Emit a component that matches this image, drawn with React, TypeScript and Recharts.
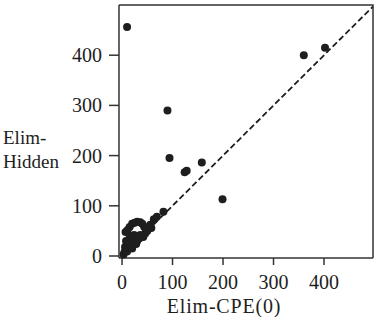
import React from 'react';
import { ScatterChart, Scatter, XAxis, YAxis, ReferenceLine } from 'recharts';

// Elim-CPE(0) vs Elim-Hidden, one entry per problem
const elimCPE = [
  10, 360, 402, 90, 94, 124, 128, 158, 199,
  3, 5, 8, 10, 6, 10, 14, 12, 16, 18, 20, 22, 26, 30, 34, 38, 42, 46, 24, 16, 28, 20, 8,
  12, 18, 24, 14, 22, 30, 36,
  7, 11, 15, 20, 25, 30, 36, 40, 44, 48, 52, 56, 58, 50,
  63, 69, 82,
];
const elimHidden = [
  456, 400, 415, 290, 195, 167, 170, 186, 113,
  3, 8, 12, 9, 18, 22, 20, 28, 25, 32, 38, 30, 34, 36, 35, 40, 38, 45, 42, 40, 24, 15, 30,
  16, 20, 28, 34, 26, 30, 42,
  48, 52, 58, 64, 66, 68, 67, 64, 58, 54, 58, 62, 56, 50,
  73, 78, 88,
];
const ticks = [0, 100, 200, 300, 400];
const xDomain = [-6, 497];
const yDomain = [-4, 500];

const points = elimCPE.map((x, i) => ({ x, y: elimHidden[i] }));
// top and right edges of the plot box, traced through the scales
const frame = [
  { x: xDomain[0], y: yDomain[1] },
  { x: xDomain[1], y: yDomain[1] },
  { x: xDomain[1], y: yDomain[0] },
];

const ink = '#1e1e1e';
const axisColor = '#333';
const font = 'Liberation Serif, serif';

const YLabel = () => (
  <text x={3} y={144} fill={ink} fontFamily={font} fontSize={19}>
    <tspan x={3} y={144}>Elim-</tspan>
    <tspan x={3} y={168}>Hidden</tspan>
  </text>
);

const XLabel = () => (
  <text x={224} y={313} textAnchor="middle" fill={ink} fontFamily={font} fontSize={20} letterSpacing={0.8}>
    Elim-CPE(0)
  </text>
);

const App: React.FC = () => {
  return (
    <div style={{ position: 'absolute', left: 0, top: 0 }}>
      <ScatterChart width={377} height={317} margin={{ top: 5, right: 4, left: 0, bottom: 0 }}>
        <XAxis
          type="number"
          dataKey="x"
          domain={xDomain}
          ticks={ticks}
          interval={0}
          height={59}
          tickSize={7}
          tickMargin={10}
          stroke={axisColor}
          strokeWidth={1.5}
          tick={{ fontFamily: font, fontSize: 20, fill: ink }}
          label={{ content: XLabel }}
        />
        <YAxis
          type="number"
          dataKey="y"
          domain={yDomain}
          ticks={ticks}
          interval={0}
          width={119}
          tickSize={10}
          tickMargin={7}
          stroke={axisColor}
          strokeWidth={1.5}
          tick={{ fontFamily: font, fontSize: 20, fill: ink }}
          label={{ content: YLabel }}
        />
        <Scatter
          data={frame}
          isAnimationActive={false}
          line={{ stroke: axisColor, strokeWidth: 1.5 }}
          shape={() => <g />}
        />
        <ReferenceLine
          segment={[{ x: 0, y: 0 }, { x: xDomain[1], y: xDomain[1] }]}
          stroke={ink}
          strokeWidth={1.8}
          strokeDasharray="6 3"
        />
        <Scatter data={points} fill={ink} isAnimationActive={false} shape={(p: any) => <circle cx={p.cx} cy={p.cy} r={4} fill={ink} />} />
      </ScatterChart>
    </div>
  );
};

export default App;
